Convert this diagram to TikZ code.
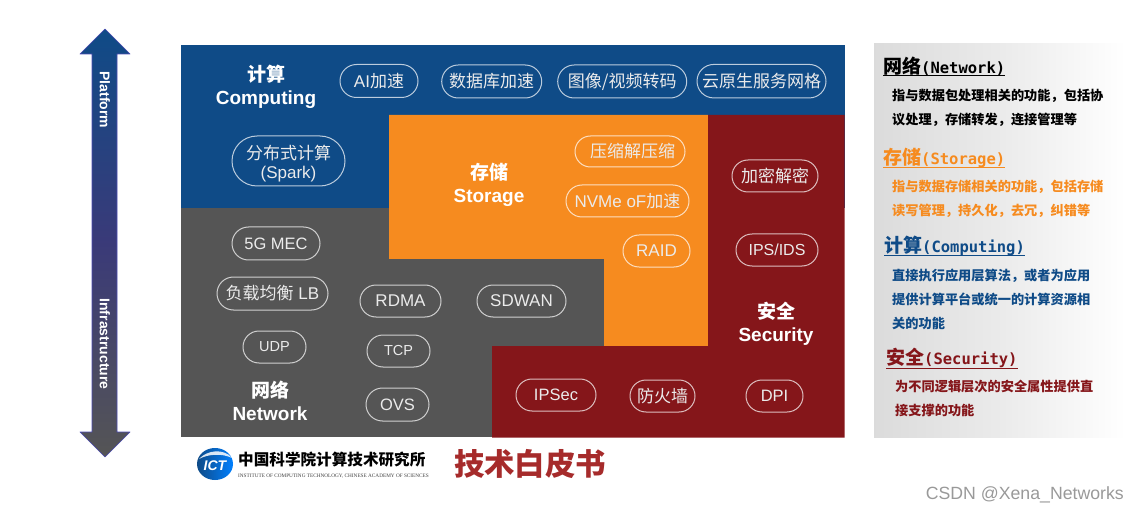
\documentclass[tikz,border=0pt]{standalone}
\usepackage{fontspec}
\setmainfont{Liberation Sans}
\newfontfamily\cjk{Noto Sans CJK SC}
\newfontfamily\monolat{DejaVu Sans Mono}
\newfontfamily\serlat{Liberation Serif}
\newcommand{\cn}[1]{{\cjk #1}}
\newcommand{\fsz}[1]{\fontsize{#1}{#1}\selectfont}
\usetikzlibrary{shapes.misc,shapes.geometric}
\definecolor{cblue}{HTML}{0F4B87}
\definecolor{corange}{HTML}{F68B1F}
\definecolor{cgrey}{HTML}{555555}
\definecolor{cred}{HTML}{85161A}
\definecolor{ctitle}{HTML}{A62B2B}
\begin{document}
\begin{tikzpicture}[x=1pt,y=-1pt,line join=round]
	\tikzset{pill/.style={rounded rectangle,draw=white,draw opacity=0.72,line width=1pt,text=white!92!black,inner sep=0pt,align=center},
		areatitle/.style={text=white,font=\fsz{19}\bfseries,align=center,inner sep=0pt},
		heading/.style={anchor=south west,inner sep=0pt,font=\fsz{19}\bfseries},
		bodytext/.style={anchor=north west,inner sep=0pt,align=left,font=\fontsize{13.2}{24}\selectfont\bfseries}}
	\path[use as bounding box] (0,0) rectangle (1138,513);
	% platform arrow
	\draw[draw=blue!40!gray,line width=0.6pt,top color=cblue,bottom color=cgrey,middle color=blue!35!gray!70!black]
		(105,29)--(130,54)--(117,54)--(117,432)--(130,432)--(105,457)--(80,432)--(92,432)--(92,54)--(80,54)--cycle;
	\node[rotate=-90,text=white,font=\fsz{14}\bfseries,inner sep=0pt] (platform) at (105,100) {Platform};
	\node[rotate=-90,text=white,font=\fsz{14}\bfseries,inner sep=0pt] (infra) at (105,344) {Infrastructure};
	% blocks
	\fill[cblue] (181,45) rectangle (845,208);
	\fill[cgrey] (181,208) rectangle (604,436.5);
	\fill[corange] (389,115)--(708,115)--(708,346)--(604,346)--(604,259)--(389,259)--cycle;
	\fill[cred] (708,115)--(844.5,115)--(844.5,437.5)--(492,437.5)--(492,346)--(708,346)--cycle;
	% block titles
	\node[areatitle] (computing) at (266,87) {\cn{计算}\\[4pt]Computing};
	\node[areatitle] (storage) at (489,185) {\cn{存储}\\[4pt]Storage};
	\node[areatitle] (security) at (776,324) {\cn{安全}\\[4pt]Security};
	\node[areatitle] (network) at (270,401) {\cn{网络}\\[4pt]Network};
	% function pills
	\foreach \n/\cx/\cy/\w/\h/\s/\t in {
		ai/379/81/78/33/17/{AI\cn{加速}},
		db/491.7/81.5/100/33/17/{\cn{数据库加速}},
		video/622.2/81.5/129/33/17/{\cn{图像/视频转码}},
		mesh/761.5/81.2/129/33.5/17/{\cn{云原生服务网格}},
		spark/288.5/161/113/50/17/{\rule{0pt}{19pt}\cn{分布式计算}\\[2pt](Spark)},
		zip/630/151.5/110/31/17/{\hspace*{5pt}\cn{压缩解压缩}},
		nvme/627.5/201/123/32/17/{NVMe oF\cn{加速}},
		raid/656.5/251/67/32/17/{RAID},
		crypt/775/176/86/32/17/{\cn{加密解密}},
		ips/777/250/82/32/16/{IPS/IDS},
		mec/276/243.5/88/33/16.5/{5G MEC},
		lb/272.5/293.5/111/33/17/{\cn{负载均衡} LB},
		rdma/400.5/301/81/32/17/{RDMA},
		sdwan/521.5/301/89/32/17/{SDWAN},
		udp/274.5/347/63/32/14.5/{UDP},
		tcp/398.5/351/63/32/14.5/{TCP},
		ovs/397.5/404.5/63/33/16.5/{OVS},
		ipsec/556/395/80/32/16.5/{IPSec},
		fire/662.5/396/65/32/17/{\cn{防火墙}},
		dpi/774.5/396/57/32/16.5/{DPI}}
		\node[pill,minimum width=\w,minimum height=\h,font=\fsz{\s}] (\n) at (\cx,\cy) {\t};
	% side panel
	\fill[left color=black!14,right color=white,middle color=black!8] (874,44) rectangle (1126,437);
	\node[heading,text=black] (nethead) at (883,76) {\cn{网络}{\monolat\fsz{15.5}(Network)}};
	\node[bodytext,text=black] (netbody) at (892,88.5) {\cn{指与数据包处理相关的功能，包括协}\\\cn{议处理，存储转发，连接管理等}};
	\node[heading,text=corange] (storhead) at (883,168) {\cn{存储}{\monolat\fsz{15.5}(Storage)}};
	\node[bodytext,text=corange] (storbody) at (892,180) {\cn{指与数据存储相关的功能，包括存储}\\\cn{读写管理，持久化，去冗，纠错等}};
	\node[heading,text=cblue] (comphead) at (884,256) {\cn{计算}{\monolat\fsz{15.5}(Computing)}};
	\node[bodytext,text=cblue] (compbody) at (892,269) {\cn{直接执行应用层算法，或者为应用}\\\cn{提供计算平台或统一的计算资源相}\\\cn{关的功能}};
	\node[heading,text=cred] (sechead) at (886,368) {\cn{安全}{\monolat\fsz{15.5}(Security)}};
	\node[bodytext,text=cred] (secbody) at (895,380) {\cn{为不同逻辑层次的安全属性提供直}\\\cn{接支撑的功能}};
	\foreach \h/\c in {nethead/black,storhead/corange,comphead/cblue,sechead/cred}
		\draw[\c,line width=1pt] (\h.south west)--(\h.south east);
	% logo
	\node[ellipse,minimum width=36,minimum height=32,inner sep=0pt,left color=cblue,right color=blue!50!cyan] (logo) at (215,464) {};
	\fill[white,opacity=0.85] (199,459) .. controls (207,450) and (224,448) .. (232,458) .. controls (222,453) and (208,454) .. (199,459)--cycle;
	\node[text=white,font=\fsz{14}\bfseries\itshape,inner sep=0pt] (ict) at (215,466) {ICT};
	\node[anchor=west,inner sep=0pt,font=\fsz{15.6}\bfseries,text=black] (ictcn) at (238,460) {\cn{中国科学院计算技术研究所}};
	\node[anchor=west,inner sep=0pt,font=\fsz{5.25},text=black!75] (icten) at (238,476) {\serlat INSTITUTE OF COMPUTING TECHNOLOGY, CHINESE ACADEMY OF SCIENCES};
	\node[inner sep=0pt,font=\fsz{30.4}\bfseries,text=ctitle] (white) at (530,464) {\cn{技术白皮书}};
	% watermark
	\node[anchor=east,inner sep=0pt,font=\fsz{17.7},text=black!40] (mark) at (1124,495) {CSDN @Xena\_Networks};
\end{tikzpicture}
\end{document}
